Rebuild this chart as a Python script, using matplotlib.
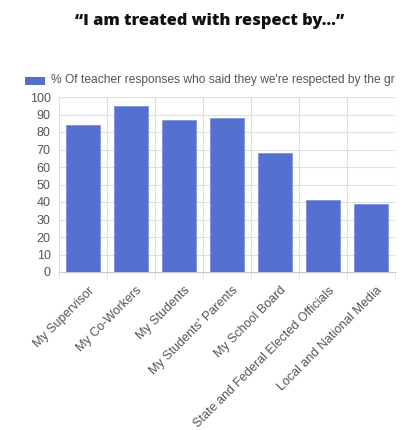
import numpy as np
import matplotlib
matplotlib.use('Agg')
import matplotlib.pyplot as plt
import matplotlib.transforms as mtransforms
from matplotlib.patches import Rectangle

# data
groups = ['My Supervisor', 'My Co-Workers', 'My Students', "My Students' Parents",
          'My School Board', 'State and Federal Elected Officials', 'Local and National Media']
pct = [84, 95, 87, 88, 68, 41, 39]
yticks = list(range(0, 101, 10))

title = '\u201cI am treated with respect by...\u201d'
# the legend text is cut off in the reference at the chart's edge
series_name = "% Of teacher responses who said they we're respected by the gr"

bar_color = '#5470CF'
grid_color = '#e0e0e0'
text_color = '#555555'

W, H = 407, 430
fig = plt.figure(figsize=(W / 100, H / 100), dpi=100)
# axes from x=59..395, y=97..272 (pixels)
ax = fig.add_axes([59 / W, 1 - 272 / H, (395 - 59) / W, (272 - 97) / H])

x = np.arange(len(groups))
ax.bar(x, pct, width=0.71, color=bar_color, edgecolor='#7f95dd', linewidth=0.6, zorder=3)

ax.set_xlim(-0.5, len(groups) - 0.5)
ax.set_ylim(0, 100)
ax.set_yticks(yticks)
ax.set_yticklabels([str(v) for v in yticks], fontsize=9, color=text_color,
                   family='Liberation Sans')
ax.tick_params(axis='y', length=0, pad=6)

# vertical gridlines sit between categories
ax.set_xticks(np.arange(len(groups) + 1) - 0.5, minor=True)
ax.set_xticks(x)
ax.set_xticklabels(groups, rotation=45, ha='right', va='top', rotation_mode='anchor',
                   fontsize=9, color=text_color, family='Liberation Sans')
ax.tick_params(axis='x', which='major', length=0, pad=9)
ax.tick_params(axis='x', which='minor', length=5, color=grid_color)
shift = mtransforms.ScaledTranslation(5 / 100, 0, fig.dpi_scale_trans)
for lab in ax.get_xticklabels():
    lab.set_transform(lab.get_transform() + shift)
ax.grid(True, axis='x', which='minor', color=grid_color, linewidth=0.8, zorder=0)
ax.grid(True, axis='y', which='major', color=grid_color, linewidth=0.8, zorder=0)

for s in ['top', 'right', 'left']:
    ax.spines[s].set_visible(False)
ax.spines['bottom'].set_color('#c8c8c8')

fig.text(210 / W, 1 - 21 / H, title, ha='center', va='center', fontsize=11.8,
         fontweight='heavy', family='Open Sans', color='#111111')

# legend
fig.patches.append(Rectangle((25 / W, 1 - 85 / H), 20 / W, 8 / H, transform=fig.transFigure,
                             facecolor=bar_color, edgecolor='none'))
fig.text(51 / W, 1 - 80 / H, series_name, ha='left', va='center', fontsize=8.65,
         color=text_color, family='Liberation Sans')

fig.savefig('out.png', dpi=100)
